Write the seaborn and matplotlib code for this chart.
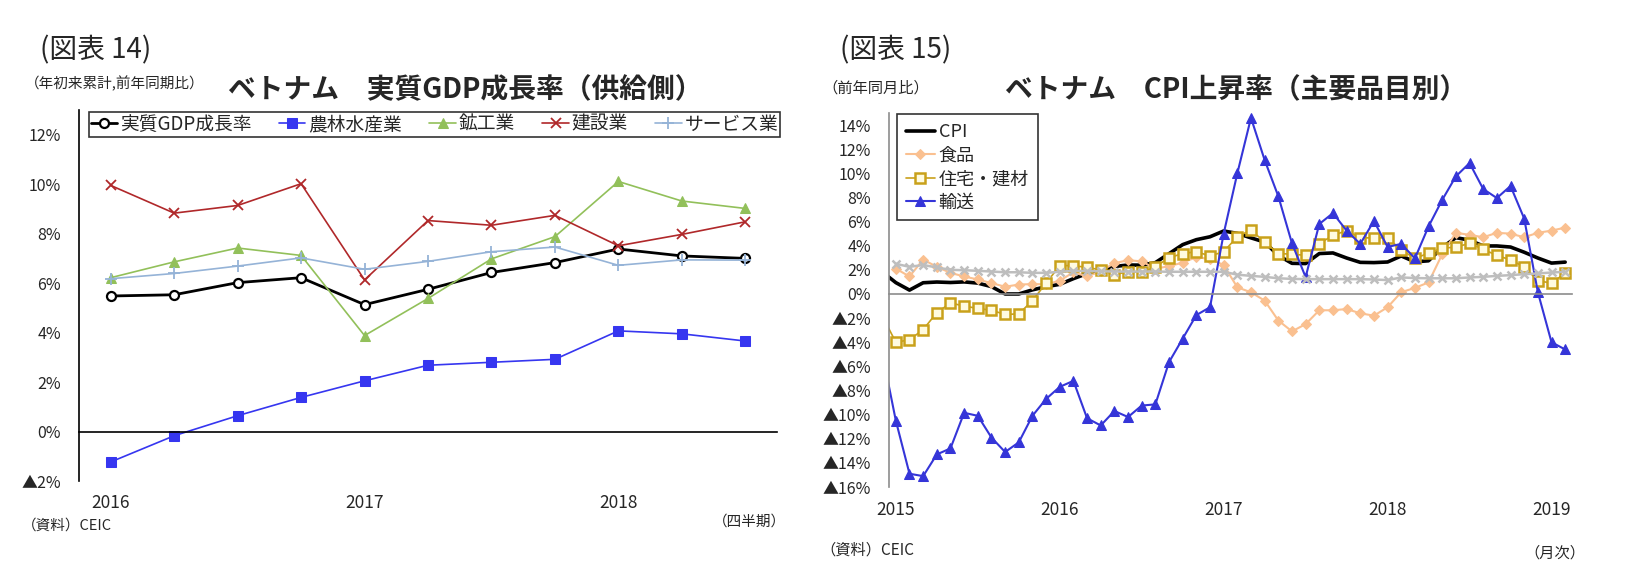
import numpy as np
import pandas as pd
import matplotlib
matplotlib.use("Agg")
import matplotlib.pyplot as plt
import matplotlib.transforms as mtransforms
import seaborn as sns

sns.set_style("white")
plt.rcParams['font.family'] = ['Noto Sans CJK JP', 'DejaVu Sans']

# ---------------- data: (図表14) quarterly, 2016Q1 - 2018Q3 ----------------
quarters = list(range(11))
q_year_pos = [0, 4, 8]
q_year_labels = ['2016', '2017', '2018']

gdp = [5.48, 5.53, 6.02, 6.22, 5.13, 5.75, 6.43, 6.83, 7.38, 7.10, 7.00]
agri = [-1.23, -0.17, 0.64, 1.38, 2.05, 2.68, 2.80, 2.92, 4.07, 3.95, 3.66]
mining = [6.22, 6.86, 7.42, 7.12, 3.88, 5.38, 6.98, 7.88, 10.11, 9.32, 9.02]
constr = [9.95, 8.83, 9.14, 10.02, 6.13, 8.53, 8.34, 8.74, 7.51, 7.97, 8.48]
services = [6.18, 6.39, 6.69, 7.02, 6.56, 6.88, 7.27, 7.46, 6.72, 6.94, 6.93]

# ---------------- data: (図表15) monthly, Dec 2014 (off-axis) - Feb 2019 ----------------
months = list(range(-1, 50))
m_year_pos = [0, 12, 24, 36, 48]
m_year_labels = ['2015', '2016', '2017', '2018', '2019']

cpi = [1.84,
       0.94, 0.32, 0.93, 0.99, 0.95, 1.00, 0.90, 0.61, 0.00, 0.00, 0.34, 0.60,
       0.80, 1.27, 1.69, 1.89, 2.28, 2.40, 2.39, 2.60, 3.34, 4.09, 4.50, 4.74,
       5.22, 5.02, 4.65, 4.30, 3.19, 2.54, 2.52, 3.35, 3.40, 2.98, 2.62, 2.60,
       2.65, 3.15, 2.66, 2.75, 3.86, 4.67, 4.46, 3.98, 3.98, 3.89, 3.46, 2.98,
       2.56, 2.64]
food = [np.nan,
        2.10, 1.45, 2.85, 2.25, 1.75, 1.45, 1.20, 0.90, 0.60, 0.78, 0.82, 0.80,
        1.10, 1.80, 1.45, 1.90, 2.55, 2.80, 2.70, 2.10, 2.30, 2.60, 3.05, 2.90,
        2.40, 0.55, 0.14, -0.55, -2.20, -3.10, -2.50, -1.35, -1.35, -1.25, -1.60, -1.80,
        -1.10, 0.15, 0.50, 0.96, 3.30, 5.07, 4.90, 4.70, 5.07, 5.00, 4.70, 5.07,
        5.25, 5.50]
housing = [-1.80,
           -4.00, -3.80, -2.95, -1.55, -0.75, -1.00, -1.20, -1.35, -1.70, -1.65, -0.55, 0.90,
           2.35, 2.35, 2.20, 2.00, 1.60, 1.85, 1.80, 2.25, 3.00, 3.35, 3.50, 3.15,
           3.50, 4.75, 5.30, 4.30, 3.35, 3.30, 3.20, 4.18, 4.85, 5.25, 4.65, 4.65,
           4.65, 3.65, 2.95, 3.38, 3.80, 3.88, 4.20, 3.70, 3.20, 2.82, 2.25, 1.10,
           0.90, 1.72]
transport = [-4.85,
             -10.50, -14.90, -15.10, -13.30, -12.80, -9.85, -10.10, -11.90, -13.10, -12.30, -10.10, -8.70,
             -7.70, -7.20, -10.30, -10.90, -9.70, -10.20, -9.25, -9.15, -5.65, -3.70, -1.75, -1.10,
             5.00, 10.00, 14.60, 11.10, 8.10, 4.20, 1.40, 5.80, 6.70, 5.25, 4.15, 6.05,
             3.90, 4.15, 2.95, 5.60, 7.80, 9.75, 10.85, 8.70, 7.95, 8.95, 6.25, 0.15,
             -4.00, -4.60]
other = [np.nan,
         2.50, 2.25, 2.40, 2.20, 2.00, 1.97, 1.92, 1.86, 1.80, 1.80, 1.75, 1.75,
         1.84, 1.92, 1.90, 1.88, 1.86, 1.86, 1.86, 1.86, 1.84, 1.84, 1.84, 1.84,
         1.84, 1.60, 1.50, 1.42, 1.30, 1.25, 1.23, 1.23, 1.23, 1.23, 1.23, 1.20,
         1.15, 1.37, 1.32, 1.30, 1.30, 1.30, 1.37, 1.42, 1.50, 1.56, 1.64, 1.70,
         1.78, 1.84]

gdp_df = pd.DataFrame({'q': quarters, '実質GDP成長率': gdp, '農林水産業': agri,
                       '鉱工業': mining, '建設業': constr, 'サービス業': services})
cpi_df = pd.DataFrame({'m': months, 'CPI': cpi, '食品': food, '住宅・建材': housing,
                       '輸送': transport, 'その他': other})

W, H = 1633, 584
fig = plt.figure(figsize=(W / 100, H / 100), dpi=100)


def fx(px):
    return px / W


def fy(py):
    return 1 - py / H


def pct(v):
    v = int(round(v))
    return f"▲{abs(v)}%" if v < 0 else f"{v}%"


ax1 = fig.add_axes([fx(79), fy(481), fx(777 - 79), (481 - 110) / H])
ax2 = fig.add_axes([fx(889), fy(487), fx(1572 - 889), (487 - 113) / H])

# =====================================================================
# 図表14  GDP by sector
# =====================================================================
left_styles = {
    '実質GDP成長率': dict(color='black', marker='o', markerfacecolor='white',
                     markeredgecolor='black', markersize=6.5, markeredgewidth=1.6, linewidth=2.0),
    '農林水産業': dict(color='#3636F0', marker='s', markeredgecolor='#3636F0',
                  markersize=7, linewidth=1.2),
    '鉱工業': dict(color='#92C05A', marker='^', markeredgecolor='#92C05A',
                markersize=7, linewidth=1.2),
    '建設業': dict(color='#B0282A', marker='x', markeredgecolor='#B0282A',
                markersize=6.5, markeredgewidth=1.3, linewidth=1.2),
    'サービス業': dict(color='#95B3D7', marker='+', markeredgecolor='#95B3D7',
                  markersize=8, markeredgewidth=1.3, linewidth=1.2),
}
for name, st in left_styles.items():
    sns.lineplot(data=gdp_df, x='q', y=name, ax=ax1, label=name,
                 estimator=None, errorbar=None, legend=False, **st)

ax1.set_xlim(-0.5, 10.5)
ax1.set_ylim(-2, 13)
ax1.set_xlabel('')
ax1.set_ylabel('')
for s in ['top', 'right']:
    ax1.spines[s].set_visible(False)
ax1.spines['bottom'].set_position(('data', 0))
for s in ['left', 'bottom']:
    ax1.spines[s].set_color('black')
    ax1.spines[s].set_linewidth(1.2)
ax1.set_xticks(np.arange(0.5, 11, 1))
ax1.set_xticklabels([])
ax1.tick_params(axis='x', direction='in', length=5, width=1.2, color='black')
ax1.set_yticks(range(-2, 13, 2))
ax1.set_yticklabels([pct(v) for v in range(-2, 13, 2)], fontsize=11.5)
ax1.tick_params(axis='y', direction='in', length=5, width=1.2, color='black', pad=13)

trans1 = mtransforms.blended_transform_factory(ax1.transData, ax1.transAxes)
for p, lab in zip(q_year_pos, q_year_labels):
    ax1.text(p, -22 / 371, lab, transform=trans1, ha='center', va='center', fontsize=12.5)

h1 = [l for l in ax1.get_lines() if l.get_label() in left_styles]
leg1 = ax1.legend(h1, [l.get_label() for l in h1], ncol=5, loc='upper left',
                  bbox_to_anchor=(0.0143, 0.93, 0.99, 0.0646), mode='expand',
                  borderaxespad=0, frameon=True, fancybox=False, edgecolor='black',
                  fontsize=13.5, handlelength=1.4, handletextpad=0.15, borderpad=0.1)
leg1.get_frame().set_linewidth(1.2)

fig.text(fx(40), fy(50), '(図表 14)', fontsize=20, ha='left', va='center')
fig.text(fx(25), fy(84), '（年初来累計,前年同期比）', fontsize=10.5, ha='left', va='center')
fig.text(fx(465), fy(90), 'ベトナム　実質GDP成長率（供給側）', fontsize=20,
         fontweight='bold', ha='center', va='center')
fig.text(fx(22), fy(526), '（資料）CEIC', fontsize=10.5, ha='left', va='center')
fig.text(fx(786), fy(522), '（四半期）', fontsize=10.5, ha='right', va='center')

# =====================================================================
# 図表15  CPI by item
# =====================================================================
right_styles = {
    'CPI': dict(color='black', linewidth=2.6, marker=None),
    '食品': dict(color='#FAC090', marker='D', markeredgecolor='#FAC090',
               markersize=5, linewidth=1.5),
    '住宅・建材': dict(color='#C9A11A', marker='s', markerfacecolor='#FFFBE0',
                  markeredgecolor='#C9A11A', markersize=6.5, markeredgewidth=1.8, linewidth=1.2),
    '輸送': dict(color='#3535D8', marker='^', markeredgecolor='#3535D8',
               markersize=6.5, linewidth=1.5),
    'その他': dict(color='#BEBEBE', marker='x', markeredgecolor='#BEBEBE',
                markersize=6, markeredgewidth=1.8, linewidth=1.8),
}
for name, st in right_styles.items():
    sns.lineplot(data=cpi_df, x='m', y=name, ax=ax2, label=name,
                 estimator=None, errorbar=None, legend=False, **st)

ax2.set_xlim(-0.5, 49.5)
ax2.set_ylim(-16, 15)
ax2.set_xlabel('')
ax2.set_ylabel('')
for s in ['top', 'right']:
    ax2.spines[s].set_visible(False)
ax2.spines['bottom'].set_position(('data', 0))
for s in ['left', 'bottom']:
    ax2.spines[s].set_color('#8C8C8C')
    ax2.spines[s].set_linewidth(1.2)
ax2.set_xticks([11.5, 23.5, 35.5, 47.5])
ax2.set_xticklabels([])
ax2.tick_params(axis='x', direction='out', length=5, width=1.2, color='#8C8C8C')
ax2.set_yticks(range(-16, 15, 2))
ax2.set_yticklabels([pct(v) for v in range(-16, 15, 2)], fontsize=11.5)
ax2.tick_params(axis='y', direction='out', length=5, width=1.2, color='#8C8C8C', pad=8)

trans2 = mtransforms.blended_transform_factory(ax2.transData, ax2.transAxes)
for p, lab in zip(m_year_pos, m_year_labels):
    ax2.text(p, -23 / 374, lab, transform=trans2, ha='center', va='center', fontsize=12.5)

legend_names = ['CPI', '食品', '住宅・建材', '輸送']
h2 = [l for l in ax2.get_lines() if l.get_label() in legend_names]
leg2 = ax2.legend(h2, [l.get_label() for l in h2], loc='upper left',
                  bbox_to_anchor=(0.0117, 0.997), borderaxespad=0, frameon=True,
                  fancybox=False, edgecolor='black', fontsize=13, handlelength=1.6,
                  handletextpad=0.2, labelspacing=0.3, borderpad=0.5)
leg2.get_frame().set_linewidth(1.2)

fig.text(fx(840), fy(50), '(図表 15)', fontsize=20, ha='left', va='center')
fig.text(fx(822), fy(88), '（前年同月比）', fontsize=11, ha='left', va='center')
fig.text(fx(1236), fy(90), 'ベトナム　CPI上昇率（主要品目別）', fontsize=20,
         fontweight='bold', ha='center', va='center')
fig.text(fx(820), fy(550), '（資料）CEIC', fontsize=11, ha='left', va='center')
fig.text(fx(1585), fy(553), '（月次）', fontsize=11, ha='right', va='center')

fig.savefig('out.png', dpi=100, facecolor='white')
